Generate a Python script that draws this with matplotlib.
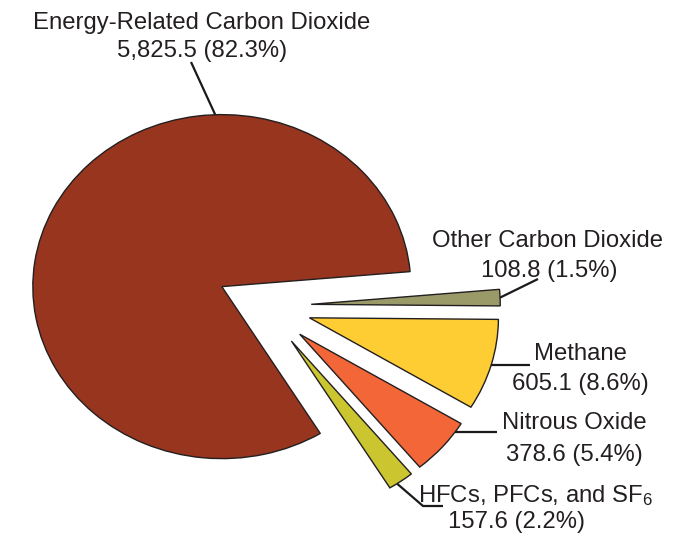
import matplotlib
matplotlib.use("Agg")
import matplotlib.pyplot as plt
import numpy as np

plt.rcParams["font.family"] = ["Liberation Sans", "DejaVu Sans"]
plt.rcParams["mathtext.fontset"] = "custom"
plt.rcParams["mathtext.rm"] = "Liberation Sans"
plt.rcParams["mathtext.it"] = "Liberation Sans:italic"

# Greenhouse gas emissions by gas (million metric tons CO2 equivalent)
categories = [
    "Energy-Related Carbon Dioxide",
    "Other Carbon Dioxide",
    "Methane",
    "Nitrous Oxide",
    r"HFCs, PFCs, and SF$_\mathregular{6}$",
]
values = [5825.5, 108.8, 605.1, 378.6, 157.6]
colors = ["#97351f", "#9a9a69", "#fecc33", "#f26638", "#cbc630"]

total = sum(values)
value_labels = [f"{v:,.1f} ({v / total * 100:.1f}%)" for v in values]

# canvas geometry (pixels)
W, H = 696, 538
SX, SY = 189.0, 172.0      # pixels per unit radius, horizontal / vertical
CX, CY = 264.0, 306.0      # pie centre, measured from top-left

fig = plt.figure(figsize=(W / 100, H / 100), dpi=100)
ax = fig.add_axes([0, 0, 1, 1])

wedges, _ = ax.pie(
    values,
    colors=colors,
    explode=[0.25] * len(values),
    startangle=301.4,
    counterclock=False,
    wedgeprops=dict(edgecolor="#231f20", linewidth=1.0),
)
ax.set_aspect("auto")
ax.set_xlim(-CX / SX, (W - CX) / SX)
ax.set_ylim(-(H - CY) / SY, CY / SY)
ax.axis("off")


def px(x, y):
    """Top-left pixel position -> data coordinates."""
    return ((x - CX) / SX, (CY - y) / SY)


def arc_point(w, ang):
    a = np.deg2rad(ang)
    return (w.center[0] + w.r * np.cos(a), w.center[1] + w.r * np.sin(a))


def mid(w):
    return 0.5 * (w.theta1 + w.theta2)


TXT = "#231f20"
FS = 17.2
LINE = dict(color="#1a1a1a", lw=1.6, solid_capstyle="butt")

# Leader lines: start on the wedge rim; "h" ends run level with the start
anchors = [92.0, mid(wedges[1]), mid(wedges[2]), -34.5, -56.0]
leader_ends = [
    [(191, 62)],
    [(538, 279)],
    [(530, "h")],
    [(497, "h")],
    [(423, 506), (443, 506)],
]

for w, ang, ends in zip(wedges, anchors, leader_ends):
    start = arc_point(w, ang)
    pts = [start]
    for ex, ey in ends:
        if ey == "h":
            pts.append((px(ex, 0)[0], start[1]))
        else:
            pts.append(px(ex, ey))
    xs, ys = zip(*pts)
    ax.plot(xs, ys, **LINE)

# label text: (centre x, baseline y) for name line and value line
name_pos = [(202, 29), (548, 247), (580, 360), (574, 429), (536, 502)]
value_pos = [(202, 57), (549, 277), (580, 390), (574, 461), (517, 528)]

for name, vlab, npos, vpos in zip(categories, value_labels, name_pos, value_pos):
    ax.text(*px(*npos), name, ha="center", va="baseline", fontsize=FS, color=TXT)
    ax.text(*px(*vpos), vlab, ha="center", va="baseline", fontsize=FS, color=TXT)

fig.savefig("out.png", dpi=100)
